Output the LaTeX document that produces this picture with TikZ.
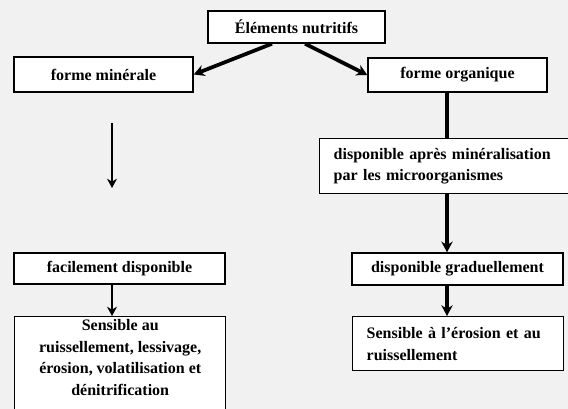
\documentclass[tikz,border=0pt]{standalone}
\usepackage{fontspec}
\setmainfont{Liberation Serif}
\usetikzlibrary{arrows.meta,calc}
\definecolor{bggray}{HTML}{F1F1F1}
\tikzset{
  boxc/.style={draw=black, line width=1.1pt, fill=white, inner sep=0pt, align=center, font=\fontsize{12}{16.3}\selectfont\bfseries},
  boxl/.style={draw=black, line width=1.1pt, fill=white, inner xsep=10.5pt, inner ysep=0pt, align=left, font=\fontsize{12}{16.3}\selectfont\bfseries},
  thickarrow/.style={line width=2.8pt, -{Stealth[length=8pt,width=8.5pt]}},
  thinarrow/.style={line width=1.8pt, -{Stealth[length=7pt,width=7.5pt]}},
  plainline/.style={line width=2.8pt}
}
\begin{document}
\begin{tikzpicture}[x=0.75pt,y=-0.75pt]
\useasboundingbox (0,0) rectangle (568,409);
\clip (0,0) rectangle (568,409);
\fill[bggray] (0,0) rectangle (568,409);

\node[boxc, minimum width=132.75pt, minimum height=24pt] (top) at (296.5,27) {Éléments nutritifs};
\node[boxc, minimum width=134.25pt, minimum height=26.25pt] (fmin) at (103.5,74.5) {forme minérale};
\node[boxc, minimum width=134.25pt, minimum height=25.5pt] (forg) at (457.5,75) {forme organique};
\node[boxl, anchor=north west, text width=171pt, minimum height=41.25pt] (dap) at (319,138) {disponible après minéralisation\\par les microorganismes};
\node[boxc, minimum width=158.25pt, minimum height=23.25pt] (fac) at (119.5,268.5) {facilement disponible};
\node[boxc, anchor=north west, inner xsep=0pt] (sensL) at (14,316) {\parbox[b][78pt][t]{158.25pt}{\centering\vspace*{2pt}Sensible au\\ruissellement, lessivage,\\érosion, volatilisation et\\dénitrification}};
\node[boxc, minimum width=158.25pt, minimum height=24pt] (grad) at (457.5,269) {disponible graduellement};
\node[boxl, anchor=north west, text width=137.25pt, minimum height=40.5pt] (sensR) at (352,316) {Sensible à l'érosion et au\\ruissellement};

\coordinate (a1) at (112,123);
\coordinate (a2) at (112,188);
\coordinate (rx) at (447,0);

\draw[thickarrow] ([xshift=-18.4pt]top.south) -- (fmin.east);
\draw[thickarrow] ([xshift=6.4pt]top.south) -- (forg.west);
\draw[thinarrow] (a1) -- (a2);
\draw[plainline] (forg.south -| rx) -- (dap.north -| rx);
\draw[thickarrow] (dap.south -| rx) -- (grad.north -| rx);
\draw[thickarrow] (grad.south -| rx) -- (sensR.north -| rx);
\draw[thinarrow] (fac.south -| a1) -- (sensL.north -| a1);
\end{tikzpicture}
\end{document}
